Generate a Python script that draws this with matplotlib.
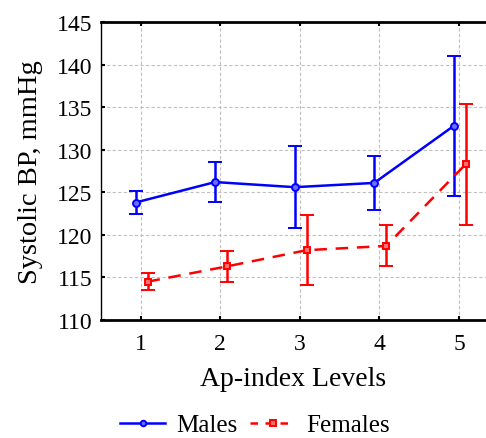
import numpy as np
import matplotlib
matplotlib.use("Agg")
import matplotlib.pyplot as plt
from matplotlib.lines import Line2D

plt.rcParams["font.family"] = ["Liberation Serif", "DejaVu Serif"]

# Ap-index levels and systolic BP (mean, half-width of error bar)
levels = [1, 2, 3, 4, 5]
males_mean = [123.8, 126.2, 125.6, 126.1, 132.8]
males_err = [1.3, 2.3, 4.85, 3.15, 8.2]
females_mean = [114.5, 116.3, 118.2, 118.7, 128.3]
females_err = [1.0, 1.8, 4.1, 2.4, 7.1]

x = np.array(levels, dtype=float)
dash = (0, (5, 3.5))

fig = plt.figure(figsize=(4.86, 4.39), dpi=100)
ax = fig.add_axes([101 / 486, 1 - 321 / 439, (486 - 101) / 486, (321 - 23) / 439])

ax.errorbar(x - 0.065, males_mean, yerr=males_err, color="blue", lw=1.8,
            elinewidth=1.8, capsize=5, capthick=1.8, marker="o", ms=5,
            mfc="#6f6fff", mec="blue", mew=1.4, zorder=3)
ax.errorbar(x + 0.085, females_mean, yerr=females_err, color="red", lw=1.8,
            ls=dash, elinewidth=1.8, capsize=5, capthick=1.8,
            marker="s", ms=5, mfc="#ff7070", mec="red", mew=1.4, zorder=3)

ax.set_xlim(0.5, 5.34)
ax.set_ylim(110, 145)
ax.set_xticks(levels)
ax.set_yticks(np.arange(110, 146, 5))
ax.grid(True, color="#c0c0c0", ls=(0, (3, 2)), lw=0.8)
ax.set_axisbelow(True)

ax.tick_params(direction="in", length=3, width=1.5, top=True, right=False,
               labelsize=17, pad=6, colors="black")
ax.tick_params(axis="x", pad=9)
for side in ["top", "bottom"]:
    ax.spines[side].set_linewidth(2)
ax.spines["left"].set_linewidth(1)
ax.spines["right"].set_visible(False)

ax.set_xlabel("Ap-index Levels", fontsize=20, labelpad=9)
ax.set_ylabel("Systolic BP, mmHg", fontsize=20.5, labelpad=10)

# legend handles without the error bars
handles = [
    Line2D([], [], color="blue", lw=1.8, marker="o", ms=4, mfc="#6f6fff",
           mec="blue", mew=1.4, label="Males"),
    Line2D([], [], color="red", lw=1.8, ls=(0, (3, 3)), marker="s", ms=4,
           mfc="#ff7070", mec="red", mew=1.4, label="Females"),
]
fig.legend(handles=handles, loc="center", bbox_to_anchor=(0.525, 1 - 426 / 439),
           ncol=2, frameon=False, fontsize=18, handlelength=1.8,
           columnspacing=0.5, handletextpad=0.45, borderpad=0.2)

fig.savefig("out.png", dpi=100)
